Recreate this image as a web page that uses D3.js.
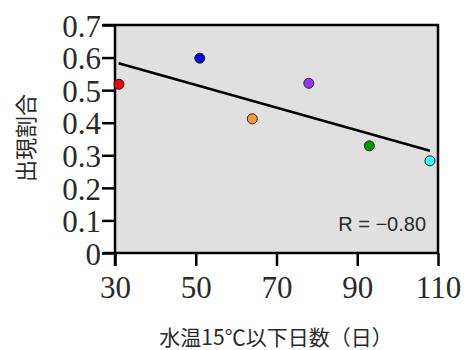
<!DOCTYPE html>
<html>
<head>
<meta charset="utf-8">
<script src="https://cdn.jsdelivr.net/npm/d3@7"></script>
<style>
  body { margin: 0; background: #fff; }
  .tick text { font-family: "Liberation Serif", "DejaVu Serif", serif; }
</style>
</head>
<body>
<script>
// days with water temp <= 15C vs. occurrence ratio
var days   = [31, 51, 64, 78, 93, 108];
var ratio  = [0.518, 0.598, 0.412, 0.521, 0.329, 0.283];
var colors = ["#ff0000", "#0000ff", "#ff9933", "#9933ff", "#009900", "#33ffff"];
var xTicks = [30, 50, 70, 90, 110];
var yTicks = [0, 0.1, 0.2, 0.3, 0.4, 0.5, 0.6, 0.7];
var fitRange = [30.9, 108];   // extent of the regression line
var rText = "R = \u22120.80";

var svg = d3.select("body").append("svg").attr("width", 472).attr("height", 350);

var margin = { top: 25, right: 34, bottom: 97, left: 115 };
var w = 472 - margin.left - margin.right;
var h = 350 - margin.top - margin.bottom;
var g = svg.append("g").attr("transform", "translate(" + margin.left + "," + margin.top + ")");

var xScale = d3.scaleLinear().domain([30, 110]).range([0, w]);
var yScale = d3.scaleLinear().domain([0, 0.7]).range([h, 0]);

// plot background
g.append("rect")
    .attr("x", 0).attr("y", 0)
    .attr("width", w).attr("height", h)
    .attr("fill", "#e0e0e0");

// frame top / right
g.append("path")
    .attr("d", "M" + (-12) + ",0H" + w + "V" + h)
    .attr("fill", "none")
    .attr("stroke", "#000")
    .attr("stroke-width", 2.5);

// x-axis
var xAxis = g.append("g")
    .attr("transform", "translate(0," + h + ")")
    .call(d3.axisBottom(xScale).tickValues(xTicks).tickSizeOuter(0).tickSize(13).tickPadding(8));

// y-axis
var yAxis = g.append("g")
    .call(d3.axisLeft(yScale).tickValues(yTicks).tickSizeOuter(0).tickSize(13).tickPadding(1)
        .tickFormat(function(d) { return d === 0 ? "0" : d3.format(".1f")(d); }));

[xAxis, yAxis].forEach(function(a) {
    a.select(".domain").attr("stroke-width", 2.5);
    a.selectAll(".tick line").attr("stroke-width", 2.5);
    a.selectAll(".tick text")
        .attr("fill", "#2a2a2a")
        .style("font-size", "31px");
});
// extend the axis lines out to the tick ends
xAxis.select(".domain").attr("d", "M-12,0H" + w);
yAxis.select(".domain").attr("d", "M0,0V" + (h + 13));
yAxis.selectAll(".tick text").attr("dy", "0.36em");
xAxis.selectAll(".tick text").attr("dy", "0.76em");

// regression line (least squares through the points)
var mx = d3.mean(days), my = d3.mean(ratio);
var sxy = d3.sum(days, function(d, i) { return (d - mx) * (ratio[i] - my); });
var sxx = d3.sum(days, function(d) { return (d - mx) * (d - mx); });
var slope = sxy / sxx;
var fit = fitRange.map(function(x) { return [x, my + slope * (x - mx)]; });

g.append("path")
    .datum(fit)
    .attr("fill", "none")
    .attr("stroke", "#000")
    .attr("stroke-width", 2.5)
    .attr("d", d3.line()
        .x(function(d) { return xScale(d[0]); })
        .y(function(d) { return yScale(d[1]); }));

// points
g.selectAll(".dot")
    .data(days)
    .enter()
    .append("circle")
    .attr("class", "dot")
    .attr("cx", function(d) { return xScale(d); })
    .attr("cy", function(d, i) { return yScale(ratio[i]); })
    .attr("r", 5)
    .attr("fill", function(d, i) { return colors[i]; })
    .attr("stroke", "#222")
    .attr("stroke-width", 1);

// correlation label
g.append("text")
    .attr("x", w - 12)
    .attr("y", 206)
    .attr("text-anchor", "end")
    .style("font-family", "'Liberation Sans', Arial, sans-serif")
    .style("font-size", "20px")
    .attr("fill", "#2a2a2a")
    .text(rText);

// y label
svg.append("text")
    .attr("transform", "translate(34,138) rotate(-90)")
    .attr("text-anchor", "middle")
    .style("font-family", "'Noto Sans CJK JP', sans-serif")
    .style("font-size", "22px")
    .attr("fill", "#2a2a2a")
    .text("出現割合");

// x label
svg.append("text")
    .attr("x", 276)
    .attr("y", 345)
    .attr("text-anchor", "middle")
    .style("font-family", "'Noto Sans CJK JP', sans-serif")
    .style("font-size", "21px")
    .attr("fill", "#2a2a2a")
    .text("水温15℃以下日数（日）");
</script>
</body>
</html>
